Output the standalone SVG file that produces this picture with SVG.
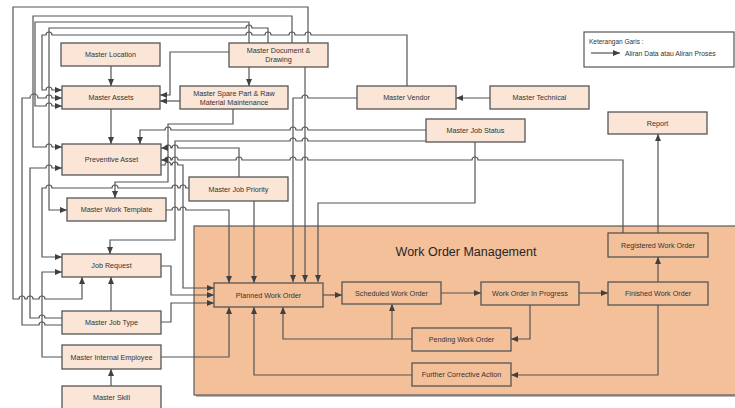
<svg xmlns="http://www.w3.org/2000/svg" width="735" height="408" viewBox="0 0 735 408">
<defs>
<marker id="a" viewBox="0 0 7 6" refX="7" refY="3" markerWidth="7" markerHeight="6" markerUnits="userSpaceOnUse" orient="auto"><path d="M0,0 L7,3 L0,6 z" fill="#404040"/></marker>
</defs>
<style>
.n rect{fill:#fbe5d6;stroke:#555;stroke-width:1.3}
.w rect{fill:#f3c09a;stroke:#555;stroke-width:1.3}
text{font-family:"Liberation Sans",Arial,sans-serif;font-size:7.2px;fill:#333;text-anchor:middle}
#connectors path{fill:none;stroke:#555;stroke-width:1.2;marker-end:url(#a)}
</style>
<rect width="735" height="408" fill="#fff"/>
<g id="container">
<rect x="196" y="228" width="560" height="169" fill="#b5b5b5"/>
<rect x="194" y="226" width="560" height="169" fill="#f3c09a" stroke="#5a5a5a" stroke-width="1.2"/>
<text x="466" y="256" style="font-size:12.5px;fill:#262626">Work Order Management</text>
</g>
<g id="legend">
<rect x="584" y="32" width="150" height="35" fill="#fff" stroke="#555" stroke-width="1.2"/>
<text x="589" y="44" style="text-anchor:start;font-size:6.5px">Keterangan Garis :</text>
<path d="M591,53 H620" stroke="#333" stroke-width="1" marker-end="url(#a)"/>
<text x="625" y="55.5" style="text-anchor:start;font-size:6.8px">Aliran Data atau Aliran Proses</text>
</g>
<g id="connectors">
<path d="M111,66 V86"/>
<path d="M111,109 V144"/>
<path d="M249,67 V86"/>
<path d="M180,101 H160"/>
<path d="M229,52 H170 V95 H160"/>
<path d="M490,98 H456"/>
<path d="M407,86 V35 H311 a3 3 0 0 0 -6 0 H295 a3 3 0 0 0 -6 0 H271 a3 3 0 0 0 -6 0 H252 a3 3 0 0 0 -6 0 H52 a3 3 0 0 0 -6 0 H42 V90 H46 a3 3 0 0 1 6 0 H62"/>
<path d="M357,98 H308 a3 3 0 0 0 -6 0 H293 V282"/>
<path d="M305,67 V282"/>
<path d="M308,43 V7 H13 V299 H19 a3 3 0 0 1 6 0 H27 a3 3 0 0 1 6 0 H39 a3 3 0 0 1 6 0 H82 V277"/>
<path d="M292,43 V16 H33 V147 H46 a3 3 0 0 1 6 0 H62"/>
<path d="M249,43 V22 H35 V106 H46 a3 3 0 0 1 6 0 H62"/>
<path d="M268,43 V28 H252 a3 3 0 0 0 -6 0 H49 V210 H67"/>
<path d="M62,325 H45 a3 3 0 0 0 -6 0 H22 V98 H30 a4 4 0 0 1 8 0 H46 a3 3 0 0 1 6 0 H62"/>
<path d="M62,318 H45 a3 3 0 0 0 -6 0 H30 V168 H46 a3 3 0 0 1 6 0 H62"/>
<path d="M62,357 H42 V272 H62"/>
<path d="M189,188 H186 a3 3 0 0 0 -6 0 H178 a3 3 0 0 0 -6 0 H118 a3 3 0 0 0 -6 0 H52 a3 3 0 0 0 -6 0 H42 V257 H62"/>
<path d="M233,109 V124 H168 V182 H115 V198"/>
<path d="M426,130 H308 a3 3 0 0 0 -6 0 H296 a3 3 0 0 0 -6 0 H171 a3 3 0 0 0 -6 0 H140 V144"/>
<path d="M426,141 H308 a3 3 0 0 0 -6 0 H296 a3 3 0 0 0 -6 0 H175 V240 H110 V254"/>
<path d="M239,177 V148 H178 a3 3 0 0 0 -6 0 H171 a3 3 0 0 0 -6 0 H161"/>
<path d="M623,233 V160 H478 a3 3 0 0 0 -6 0 H308 a3 3 0 0 0 -6 0 H296 a3 3 0 0 0 -6 0 H242 a3 3 0 0 0 -6 0 H178 a3 3 0 0 0 -6 0 H171 a3 3 0 0 0 -6 0 H161"/>
<path d="M161,165 H165 a3 3 0 0 1 6 0 H172 a3 3 0 0 1 6 0 H183 V288 H214"/>
<path d="M166,210 H172 a3 3 0 0 1 6 0 H180 a3 3 0 0 1 6 0 H229 V283"/>
<path d="M254,201 V283"/>
<path d="M475,142 V203 H318 V282"/>
<path d="M161,266 H171 V295 H214"/>
<path d="M161,322 H171 V303 H214"/>
<path d="M161,357 H229 V307"/>
<path d="M111,386 V369"/>
<path d="M111,311 V277"/>
<path d="M323,295 H342"/>
<path d="M441,293 H481"/>
<path d="M579,293 H608"/>
<path d="M658,282 V257"/>
<path d="M658,233 V134"/>
<path d="M530,305 V339 H511"/>
<path d="M658,305 V375 H511"/>
<path d="M412,339 H392 V304"/>
<path d="M392,339 H283 V307"/>
<path d="M412,375 H254 V307"/>
</g>
<g id="loc" class="n"><rect x="61" y="43" width="99" height="23"/><text x="110.5" y="57">Master Location</text></g>
<g id="doc" class="n"><rect x="229" y="43" width="99" height="24"/><text x="278.5" y="53">Master Document &amp;</text><text x="278.5" y="62">Drawing</text></g>
<g id="assets" class="n"><rect x="62" y="86" width="98" height="23"/><text x="111" y="100">Master Assets</text></g>
<g id="spare" class="n"><rect x="180" y="86" width="108" height="23"/><text x="234" y="96">Master Spare Part &amp; Raw</text><text x="234" y="105">Material Maintenance</text></g>
<g id="vendor" class="n"><rect x="357" y="86" width="99" height="23"/><text x="406.5" y="100">Master Vendor</text></g>
<g id="tech" class="n"><rect x="490" y="86" width="99" height="23"/><text x="539.5" y="100">Master Technical</text></g>
<g id="jobstatus" class="n"><rect x="426" y="119" width="99" height="23"/><text x="475.5" y="133">Master Job Status</text></g>
<g id="report" class="n"><rect x="608" y="112" width="99" height="22"/><text x="657.5" y="125.5">Report</text></g>
<g id="prev" class="n"><rect x="62" y="144" width="99" height="31"/><text x="111.5" y="162">Preventive Asset</text></g>
<g id="prio" class="n"><rect x="189" y="177" width="99" height="24"/><text x="238.5" y="191.5">Master Job Priority</text></g>
<g id="template" class="n"><rect x="67" y="198" width="99" height="23"/><text x="116.5" y="212">Master Work Template</text></g>
<g id="jobreq" class="n"><rect x="62" y="254" width="99" height="23"/><text x="111.5" y="268">Job Request</text></g>
<g id="jobtype" class="n"><rect x="62" y="311" width="99" height="23"/><text x="111.5" y="325">Master Job Type</text></g>
<g id="employee" class="n"><rect x="62" y="345" width="99" height="24"/><text x="111.5" y="359.5">Master Internal Employee</text></g>
<g id="skill" class="n"><rect x="62" y="386" width="99" height="23"/><text x="111.5" y="400">Master Skill</text></g>
<g id="planned" class="w"><rect x="214" y="283" width="109" height="24"/><text x="268.5" y="297.5">Planned Work Order</text></g>
<g id="scheduled" class="w"><rect x="342" y="282" width="99" height="22"/><text x="391.5" y="295.5">Scheduled Work Order</text></g>
<g id="progress" class="w"><rect x="481" y="282" width="98" height="23"/><text x="530" y="296">Work Order In Progress</text></g>
<g id="finished" class="w"><rect x="608" y="282" width="100" height="23"/><text x="658" y="296">Finished Work Order</text></g>
<g id="registered" class="w"><rect x="608" y="233" width="100" height="24"/><text x="658" y="247.5">Registered Work Order</text></g>
<g id="pending" class="w"><rect x="412" y="328" width="99" height="23"/><text x="461.5" y="342">Pending Work Order</text></g>
<g id="further" class="w"><rect x="412" y="363" width="99" height="23"/><text x="461.5" y="377">Further Corrective Action</text></g>
</svg>
